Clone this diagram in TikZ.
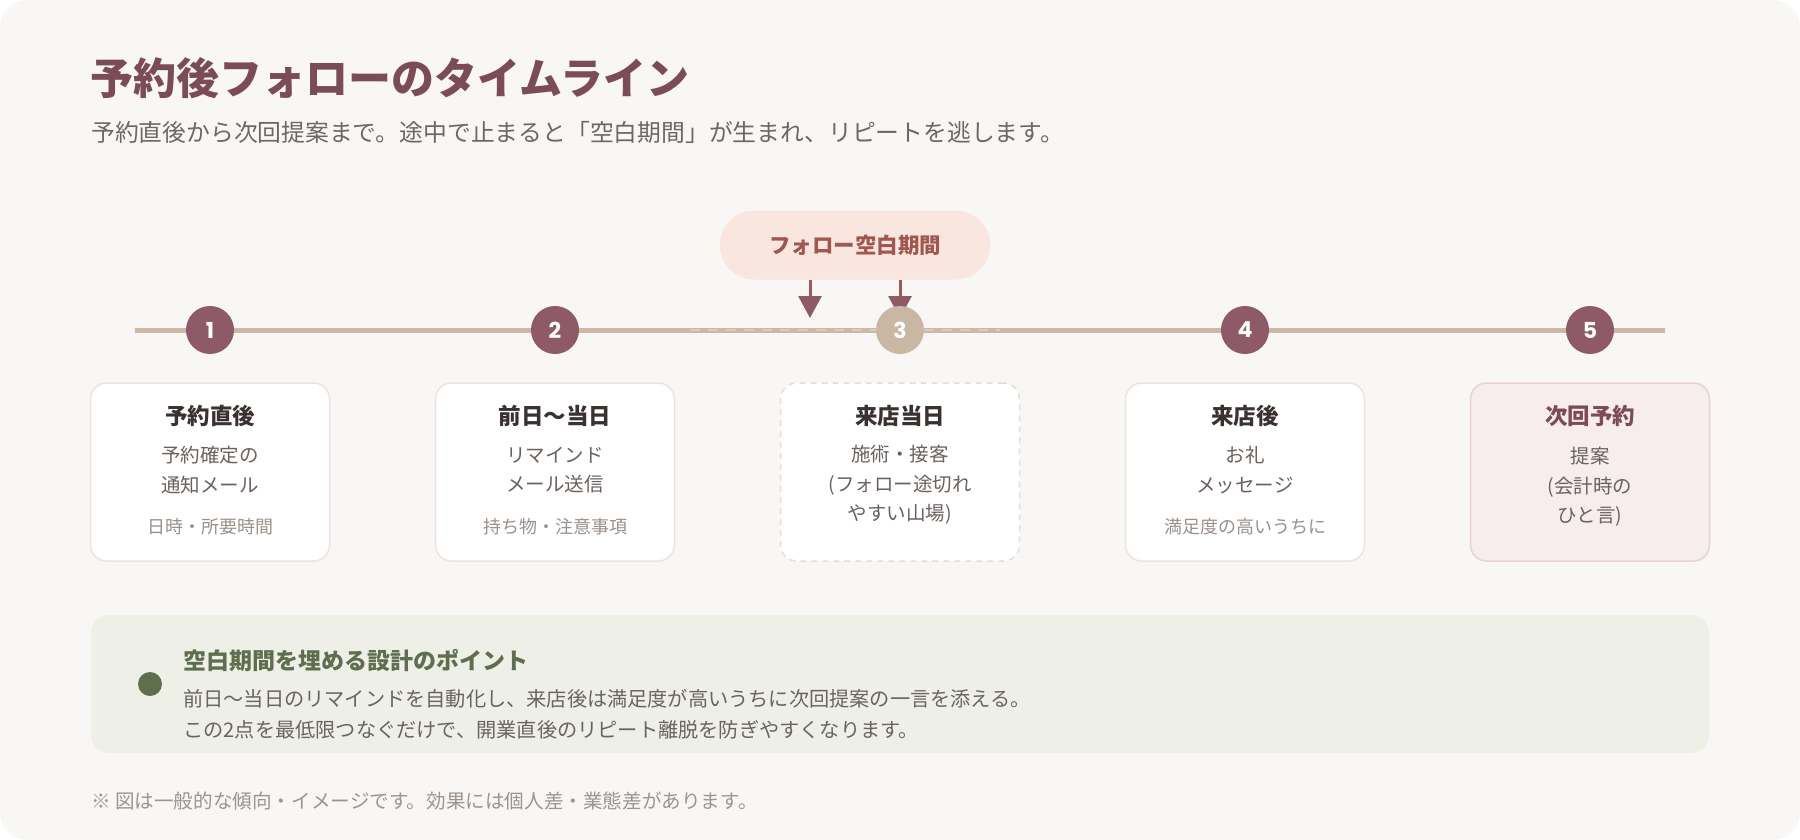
\documentclass[tikz,border=0pt]{standalone}
\usepackage{fontspec}
\setmainfont{Noto Sans CJK JP}
\newfontfamily\numfont{Poppins}
\usetikzlibrary{arrows.meta}
\definecolor{bgc}{HTML}{F9F7F5}
\definecolor{titlec}{HTML}{7B4B58}
\definecolor{subc}{HTML}{6E6662}
\definecolor{tlc}{HTML}{CDB8A5}
\definecolor{tldash}{HTML}{DCCDBF}
\definecolor{circc}{HTML}{8E5A67}
\definecolor{circthree}{HTML}{C9B6A3}
\definecolor{pillfill}{HTML}{F8E6DF}
\definecolor{pilltext}{HTML}{A0574F}
\definecolor{shaftc}{HTML}{9E5A55}
\definecolor{cardline}{HTML}{ECE3DD}
\definecolor{dashline}{HTML}{E5DDD6}
\definecolor{cardfivefill}{HTML}{F7ECEE}
\definecolor{cardfiveline}{HTML}{E8D2D7}
\definecolor{cardfivetitle}{HTML}{7E4A5A}
\definecolor{cardtitle}{HTML}{3A3230}
\definecolor{cardbody}{HTML}{6B625E}
\definecolor{cardsmall}{HTML}{9A918B}
\definecolor{greenfill}{HTML}{EEF0E8}
\definecolor{greenc}{HTML}{5F6E4F}
\definecolor{greentext}{HTML}{6B6360}
\definecolor{footc}{HTML}{9D948E}
\begin{document}
\begin{tikzpicture}[x=1pt,y=-1pt,
  card/.style={draw=cardline, line width=1.5pt, fill=white, rounded corners=16pt,
    minimum width=239pt, minimum height=178pt, inner sep=0pt},
  cardtitlestyle/.style={text=cardtitle, font=\fontsize{22.5}{26}\selectfont\bfseries, inner sep=0pt},
  cardbodystyle/.style={text=cardbody, font=\fontsize{19.5}{29.5}\selectfont, align=center, inner sep=0pt},
  cardsmallstyle/.style={text=cardsmall, font=\fontsize{18}{22}\selectfont, inner sep=0pt},
  stepcirc/.style={circle, fill=circc, minimum size=48pt, inner sep=0pt, text=white,
    font=\fontsize{22}{24}\selectfont\numfont\bfseries},
  gaparrow/.style={draw=shaftc, line width=3pt, -{Triangle[width=23pt,length=22pt,color=circc]}},
]
\useasboundingbox (0,0) rectangle (1800,840);
\fill[white] (0,0) rectangle (1800,840);
\fill[bgc, rounded corners=28pt] (0,0) rectangle (1800,840);

% title
\node[anchor=west, inner sep=0pt, text=titlec, font=\fontsize{43}{50}\selectfont\bfseries] (title) at (90,78) {予約後フォローのタイムライン};
\node[anchor=west, inner sep=0pt, text=subc, font=\fontsize{23.8}{28}\selectfont] (sub) at (91,132) {予約直後から次回提案まで。途中で止まると「空白期間」が生まれ、リピートを逃します。};

% timeline
\coordinate (tlA) at (135,330);
\coordinate (tlB) at (1665,330);
\draw[tlc, line width=5pt] (tlA) -- (tlB);
\coordinate (gapA) at (690,330);
\coordinate (gapB) at (1000,330);
\draw[tldash, line width=2pt, dash pattern=on 10pt off 8pt] (gapA) -- (gapB);

% pill
\node[fill=pillfill, rounded corners=34pt, minimum width=270pt, minimum height=69pt, inner sep=0pt,
  text=pilltext, font=\fontsize{21.5}{25}\selectfont\bfseries] (pill) at (855,245) {フォロー空白期間};
\coordinate (arrA) at (810,318);
\coordinate (arrB) at (900,318);
\draw[gaparrow] (pill.south -| arrA) -- (arrA);
\draw[gaparrow] (pill.south -| arrB) -- (arrB);

% circles
\node[stepcirc] (c1) at (210,330) {1};
\node[stepcirc] (c2) at (555,330) {2};
\node[stepcirc, fill=circthree] (c3) at (900,330) {3};
\node[stepcirc] (c4) at (1245,330) {4};
\node[stepcirc] (c5) at (1590,330) {5};

% cards
\node[card] (k1) at (210,472) {};
\node[cardtitlestyle] (k1t) at (210,416) {予約直後};
\node[cardbodystyle] (k1b) at (210,470) {予約確定の\\通知メール};
\node[cardsmallstyle] (k1s) at (210,527) {日時・所要時間};

\node[card] (k2) at (555,472) {};
\node[cardtitlestyle] (k2t) at (555,416) {前日〜当日};
\node[cardbodystyle] (k2b) at (555,470) {リマインド\\メール送信};
\node[cardsmallstyle] (k2s) at (555,527) {持ち物・注意事項};

\node[card, draw=dashline, dash pattern=on 6pt off 5pt] (k3) at (900,472) {};
\node[cardtitlestyle] (k3t) at (900,416) {来店当日};
\node[cardbodystyle] (k3b) at (900,485) {施術・接客\\(フォロー途切れ\\やすい山場)};

\node[card] (k4) at (1245,472) {};
\node[cardtitlestyle] (k4t) at (1245,416) {来店後};
\node[cardbodystyle] (k4b) at (1245,470) {お礼\\メッセージ};
\node[cardsmallstyle] (k4s) at (1245,527) {満足度の高いうちに};

\node[card, fill=cardfivefill, draw=cardfiveline] (k5) at (1590,472) {};
\node[cardtitlestyle, text=cardfivetitle] (k5t) at (1590,416) {次回予約};
\node[cardbodystyle] (k5b) at (1590,487) {提案\\(会計時の\\ひと言)};

% point box
\node[fill=greenfill, rounded corners=18pt, minimum width=1618pt, minimum height=138pt, inner sep=0pt] (gbox) at (900,684) {};
\node[circle, fill=greenc, minimum size=24pt, inner sep=0pt] (gdot) at (150,684) {};
\node[anchor=west, inner sep=0pt, text=greenc, font=\fontsize{23}{27}\selectfont\bfseries] (gtitle) at (183,661) {空白期間を埋める設計のポイント};
\node[anchor=west, inner sep=0pt, text=greentext, font=\fontsize{20.2}{24}\selectfont] (gl1) at (183,699) {前日〜当日のリマインドを自動化し、来店後は満足度が高いうちに次回提案の一言を添える。};
\node[anchor=west, inner sep=0pt, text=greentext, font=\fontsize{20.2}{24}\selectfont] (gl2) at (183,730) {この2点を最低限つなぐだけで、開業直後のリピート離脱を防ぎやすくなります。};

% footnote
\node[anchor=west, inner sep=0pt, text=footc, font=\fontsize{19.6}{23}\selectfont] (foot) at (91,801) {※ 図は一般的な傾向・イメージです。効果には個人差・業態差があります。};
\end{tikzpicture}
\end{document}
